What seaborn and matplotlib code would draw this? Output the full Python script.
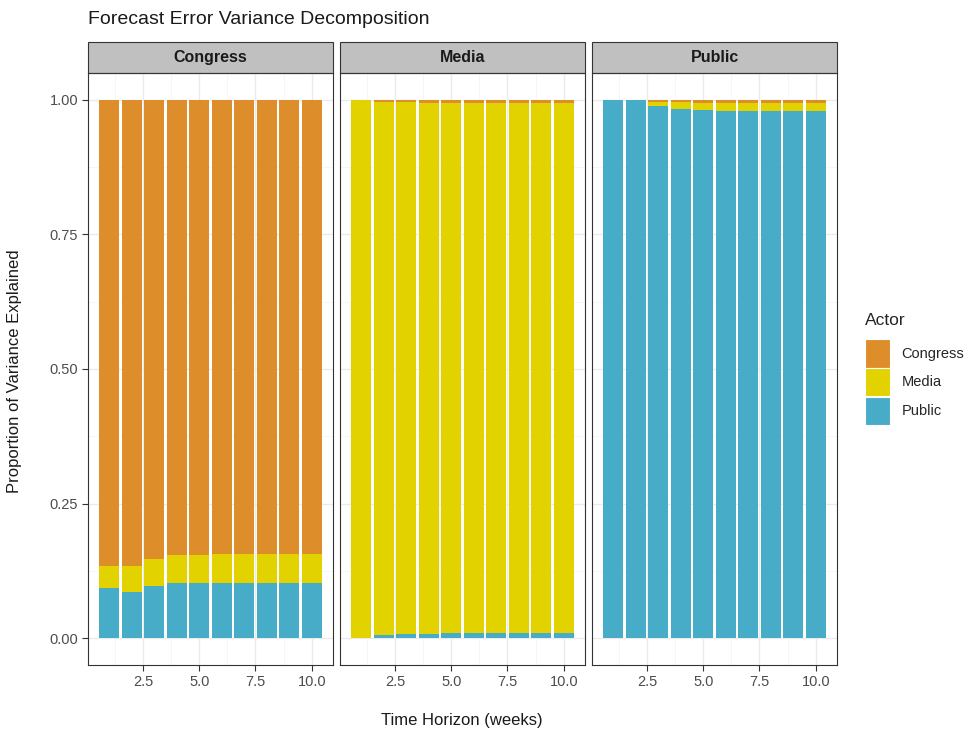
import matplotlib
matplotlib.use("Agg")
import matplotlib.pyplot as plt
from matplotlib.patches import Rectangle, Patch
from matplotlib.ticker import FixedLocator
import seaborn as sns
import pandas as pd

# -----------------------------------------------------------------------------
# Data: share of forecast error variance, per responding actor (panel)
# -----------------------------------------------------------------------------
horizon = [1, 2, 3, 4, 5, 6, 7, 8, 9, 10]
actors = ["Congress", "Media", "Public"]

# Congress panel
congress_in_congress = [0.866, 0.866, 0.853, 0.845, 0.845, 0.844, 0.844, 0.844, 0.844, 0.844]
media_in_congress = [0.040, 0.048, 0.051, 0.053, 0.052, 0.053, 0.053, 0.053, 0.053, 0.053]
public_in_congress = [0.094, 0.086, 0.096, 0.102, 0.103, 0.103, 0.103, 0.103, 0.103, 0.103]

# Media panel
congress_in_media = [0.000, 0.004, 0.004, 0.005, 0.005, 0.006, 0.006, 0.006, 0.006, 0.006]
media_in_media = [1.000, 0.990, 0.988, 0.987, 0.986, 0.984, 0.984, 0.984, 0.984, 0.984]
public_in_media = [0.000, 0.006, 0.008, 0.008, 0.009, 0.010, 0.010, 0.010, 0.010, 0.010]

# Public panel
congress_in_public = [0.000, 0.000, 0.003, 0.004, 0.005, 0.005, 0.005, 0.005, 0.005, 0.005]
media_in_public = [0.000, 0.000, 0.008, 0.013, 0.014, 0.015, 0.015, 0.015, 0.015, 0.015]
public_in_public = [1.000, 1.000, 0.989, 0.983, 0.981, 0.980, 0.980, 0.980, 0.980, 0.980]

panels = {
    "Congress": {"Congress": congress_in_congress, "Media": media_in_congress, "Public": public_in_congress},
    "Media": {"Congress": congress_in_media, "Media": media_in_media, "Public": public_in_media},
    "Public": {"Congress": congress_in_public, "Media": media_in_public, "Public": public_in_public},
}

palette = {"Congress": "#DD8D29", "Media": "#E2D200", "Public": "#46ACC8"}

rows = []
for panel, shares in panels.items():
    for actor, vals in shares.items():
        for h, v in zip(horizon, vals):
            rows.append({"panel": panel, "actor": actor, "horizon": h, "share": v})
df = pd.DataFrame(rows)

# -----------------------------------------------------------------------------
# Styling
# -----------------------------------------------------------------------------
sns.set_theme(style="white")
plt.rcParams["font.family"] = ["Liberation Sans", "DejaVu Sans"]

W, H = 970, 732
fig = plt.figure(figsize=(W / 100, H / 100), dpi=100)

panel_w, gap = 245, 7
panel_top, panel_bottom = 73, 665
strip_h = 31

for i, panel in enumerate(actors):
    left = 88 + i * (panel_w + gap)
    ax = fig.add_axes([left / W, (H - panel_bottom) / H, panel_w / W,
                       (panel_bottom - panel_top) / H])
    sub = df[df["panel"] == panel]
    sns.histplot(data=sub, x="horizon", weights="share", hue="actor",
                 hue_order=actors, multiple="stack", discrete=True, shrink=0.9,
                 palette=palette, alpha=1, edgecolor="none", linewidth=0,
                 legend=False, ax=ax)

    ax.set_xlim(0.055, 10.945)
    ax.set_ylim(-0.05, 1.05)
    ax.set_xticks([2.5, 5.0, 7.5, 10.0])
    ax.set_xticklabels(["2.5", "5.0", "7.5", "10.0"])
    ax.set_yticks([0, 0.25, 0.5, 0.75, 1.0])
    ax.xaxis.set_minor_locator(FixedLocator([1.25, 3.75, 6.25, 8.75]))
    ax.yaxis.set_minor_locator(FixedLocator([0.125, 0.375, 0.625, 0.875]))
    if i == 0:
        ax.set_yticklabels(["0.00", "0.25", "0.50", "0.75", "1.00"])
    else:
        ax.set_yticklabels([])
    ax.set_xlabel("")
    ax.set_ylabel("")

    ax.set_axisbelow(True)
    ax.grid(which="major", color="#EBEBEB", linewidth=1.0)
    ax.grid(which="minor", color="#F3F3F3", linewidth=0.5)
    ax.tick_params(which="major", length=4, width=0.8, color="#333333",
                   labelsize=10.5, labelcolor="#4D4D4D", pad=3,
                   bottom=True, left=(i == 0))
    ax.tick_params(which="minor", length=0)
    if i > 0:
        ax.tick_params(axis="y", which="major", length=0)
    for s in ax.spines.values():
        s.set_color("#333333")
        s.set_linewidth(0.8)

    # facet strip
    sh = strip_h / (panel_bottom - panel_top)
    ax.add_patch(Rectangle((0, 1.0), 1, sh, transform=ax.transAxes,
                           facecolor="#C0C0C0", edgecolor="#333333",
                           linewidth=0.8, clip_on=False))
    ax.text(0.5, 1 + sh / 2, panel, transform=ax.transAxes, ha="center",
            va="center", fontsize=11.5, fontweight="bold", color="#1A1A1A")

fig.text(88 / W, 1 - 20 / H, "Forecast Error Variance Decomposition",
         fontsize=14, ha="left", va="center", color="#1A1A1A")
fig.text(15 / W, 1 - 371 / H, "Proportion of Variance Explained",
         fontsize=12, rotation=90, ha="center", va="center", color="#1A1A1A")
fig.text(462 / W, 1 - 720 / H, "Time Horizon (weeks)",
         fontsize=12, ha="center", va="center", color="#1A1A1A")

handles = [Patch(facecolor=palette[a], edgecolor="white", linewidth=0.8, label=a)
           for a in actors]
leg = fig.legend(handles=handles, title="Actor", loc="center left",
                 bbox_to_anchor=(859 / W, 1 - 369 / H), frameon=False,
                 fontsize=10.5, title_fontsize=12.5, handlelength=1.7,
                 handleheight=2.6, labelspacing=0.03, handletextpad=0.8,
                 borderaxespad=0, alignment="left")
leg._legend_box.sep = 8

fig.savefig("out.png", dpi=100)
